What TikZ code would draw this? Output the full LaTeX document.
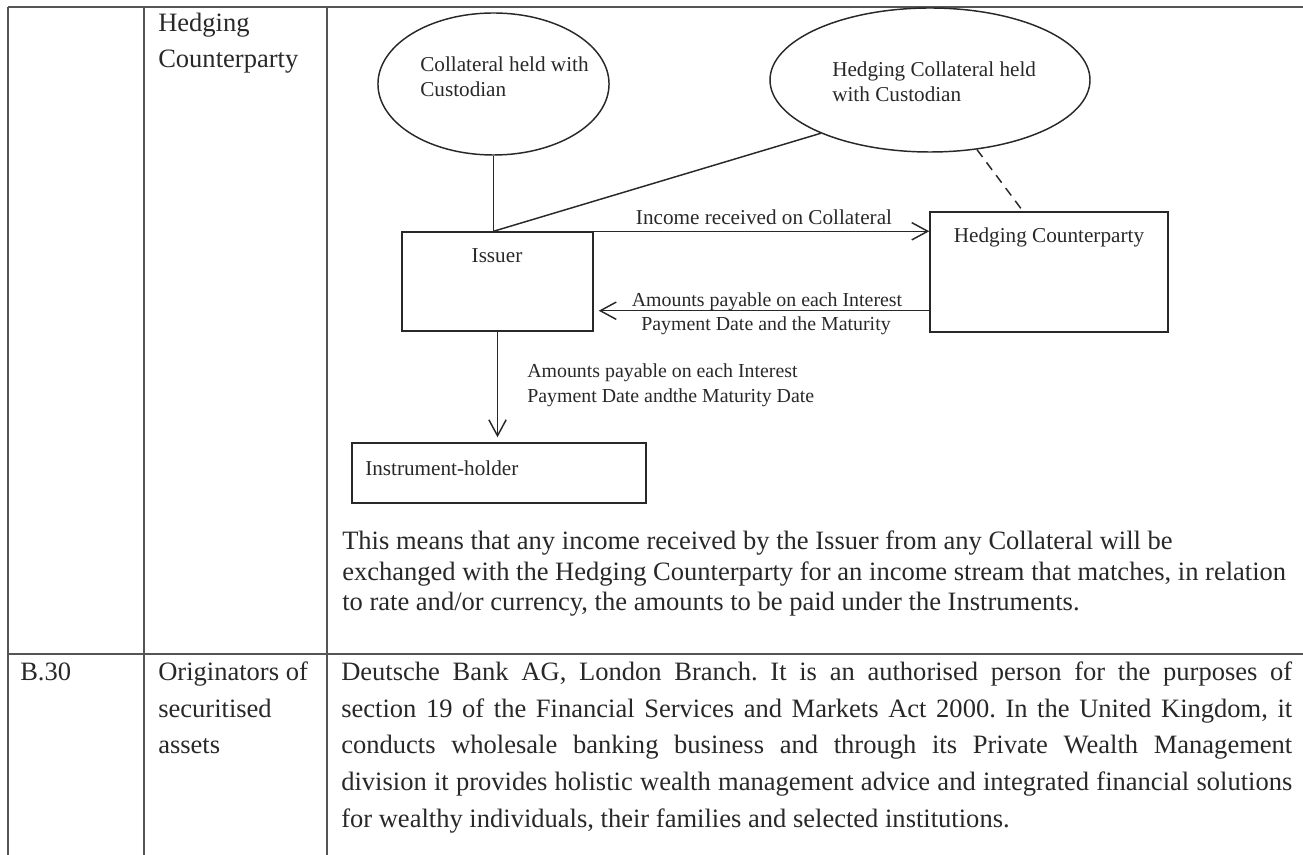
\documentclass[tikz,border=0pt]{standalone}
\usepackage{fontspec}
\setmainfont{Liberation Serif}
\usetikzlibrary{shapes.geometric,arrows.meta,calc}
\definecolor{ink}{RGB}{40,40,40}
\definecolor{rulegray}{RGB}{85,85,85}
\frenchspacing

\begin{document}
\begin{tikzpicture}[x=0.75pt,y=0.75pt,yscale=-1,
	ruleline/.style={draw=rulegray,line width=1.3pt},
	shapeline/.style={draw=ink,line width=1.1pt},
	oval/.style={shapeline,ellipse,inner sep=0pt},
	boxnode/.style={shapeline,rectangle,inner sep=0pt},
	chartxt/.style={text=ink,inner sep=0pt,font=\fontsize{15.9pt}{19pt}\selectfont},
	paytxt/.style={text=ink,inner sep=0pt,font=\fontsize{14.9pt}{18pt}\selectfont},
	celltxt/.style={text=ink,inner sep=0pt,anchor=base west,font=\fontsize{19.9pt}{24pt}\selectfont},
	flow/.style={shapeline,-{Straight Barb[length=12pt,width=13pt]}}]
	\useasboundingbox (0,0) rectangle (1303,855);
	% table rules
	\draw [ruleline] (8,7) -- (1303,7);
	\draw [ruleline] (8,654) -- (1303,654);
	\draw [ruleline] (8,7) -- (8,855);
	\draw [ruleline] (144,7) -- (144,855);
	\draw [ruleline] (327,7) -- (327,855);
	
	% diagram shapes
	\node [oval,minimum width=173.3pt,minimum height=106.5pt] (coll) at (493.5,84) {};
	\node [oval,minimum width=240pt,minimum height=108pt] (hcoll) at (930,80) {};
	\node [boxnode,minimum width=143.25pt,minimum height=74.25pt] (issuer) at (497.5,281.5) {};
	\node [boxnode,minimum width=178.5pt,minimum height=90pt] (hc) at (1049,272) {};
	\node [boxnode,minimum width=220.5pt,minimum height=45pt] (holder) at (499,473) {};
	
	\node [chartxt,anchor=base west] (colltxt1) at (420,72) {Collateral held with};
	\node [chartxt,anchor=base west] (colltxt2) at (420,97) {Custodian};
	\node [chartxt,anchor=base west] (hcolltxt1) at (832,77) {Hedging Collateral held};
	\node [chartxt,anchor=base west] (hcolltxt2) at (832,102) {with Custodian};
	\node [chartxt,anchor=base] (issuertxt) at (497,263) {Issuer};
	\node [chartxt,anchor=base] (hctxt) at (1049,243) {Hedging Counterparty};
	\node [chartxt,anchor=base west] (holdertxt) at (365,475) {Instrument-holder};
	
	% connectors
	\coordinate (join) at (coll.south |- issuer.north);
	\draw [shapeline] (coll.south) -- (join);
	\draw [shapeline] (join) -- (hcoll.206);
	\draw [shapeline,dash pattern=on 7pt off 5pt] (hcoll.304) -- ($(hc.north)+(-26,0)$);
	\draw [flow] (issuer.north east) -- (hc.west |- issuer.north);
	\coordinate (backstart) at ($(hc.south west)+(0,-22)$);
	\draw [flow,shorten >=3.75pt] (backstart) -- (issuer.east |- backstart);
	\draw [flow,shorten >=3.75pt] (issuer.south) -- (issuer.south |- holder.north);
	
	\node [chartxt,anchor=base] (incometxt) at (764,225) {Income received on Collateral};
	\node [paytxt,anchor=base] (backtxt1) at (767,307) {Amounts payable on each Interest};
	\node [paytxt,anchor=base] (backtxt2) at (766,331) {Payment Date and the Maturity};
	\node [paytxt,anchor=base west] (downtxt1) at (527,378) {Amounts payable on each Interest};
	\node [paytxt,anchor=base west] (downtxt2) at (527,403) {Payment Date andthe Maturity Date};
	
	% row text
	\node [celltxt] (hdg1) at (158,32) {Hedging};
	\node [celltxt] (hdg2) at (158,68) {Counterparty};
	\node [celltxt] (means1) at (342,549) {This means that any income received by the Issuer from any Collateral will be};
	\node [celltxt] (means2) at (342,580) {exchanged with the Hedging Counterparty for an income stream that matches, in relation};
	\node [celltxt] (means3) at (342,610) {to rate and/or currency, the amounts to be paid under the Instruments.};
	
	\node [celltxt] (b30) at (20,680) {B.30};
	\node [celltxt] (orig1) at (158,680) {Originators of};
	\node [celltxt] (orig2) at (158,717) {securitised};
	\node [celltxt] (orig3) at (158,753) {assets};
	\node [celltxt] (dbank1) at (341,680) {\makebox[713.25pt][s]{Deutsche Bank AG, London Branch. It is an authorised person for the purposes of}};
	\node [celltxt] (dbank2) at (341,717) {\makebox[713.25pt][s]{section 19 of the Financial Services and Markets Act 2000. In the United Kingdom, it}};
	\node [celltxt] (dbank3) at (341,753) {\makebox[713.25pt][s]{conducts wholesale banking business and through its Private Wealth Management}};
	\node [celltxt] (dbank4) at (341,790) {\makebox[713.25pt][s]{division it provides holistic wealth management advice and integrated financial solutions}};
	\node [celltxt] (dbank5) at (341,827) {for wealthy individuals, their families and selected institutions.};
\end{tikzpicture}
\end{document}
